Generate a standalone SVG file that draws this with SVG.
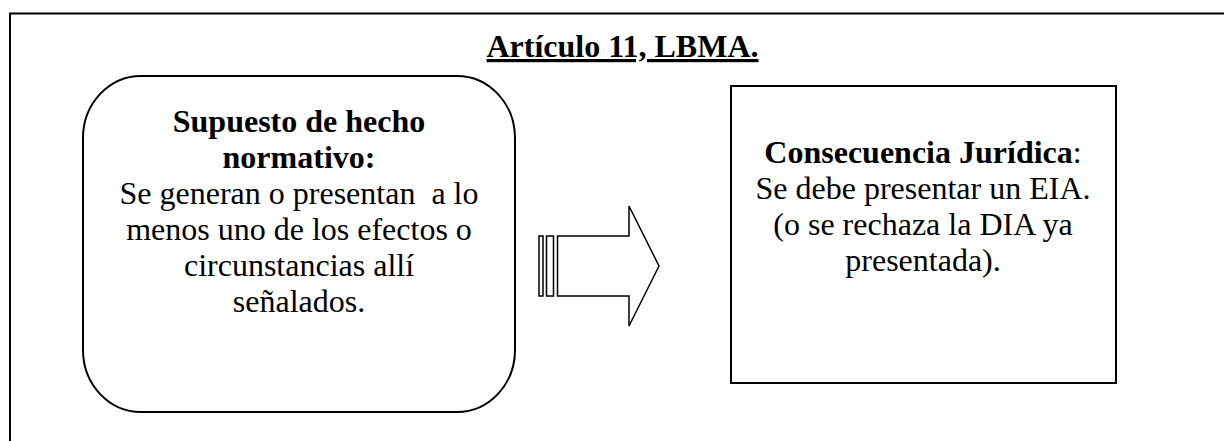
<svg xmlns="http://www.w3.org/2000/svg" width="1224" height="441" viewBox="0 0 1224 441">
<style>
.t{font-family:"Liberation Serif","Times New Roman",serif;font-size:32px;fill:#000;text-anchor:middle}
.b{font-weight:bold}
.s{fill:#fff;stroke:#000;stroke-width:2}
</style>
<rect width="1224" height="441" fill="#fff"/>
<g id="frame">
<path d="M10 441 V13.5 H1224" fill="none" stroke="#000" stroke-width="2"/>
<text class="t b" x="622.5" y="57" text-decoration="underline">Artículo 11, LBMA.</text>
</g>
<g id="supuesto">
<rect class="s" x="83" y="76" width="432" height="336" rx="58" ry="62"/>
<text class="t" x="299" y="132"><tspan class="b">Supuesto de hecho</tspan><tspan class="b" x="299" dy="36">normativo:</tspan><tspan x="299" dy="36" xml:space="preserve">Se generan o presentan  a lo</tspan><tspan x="299" dy="36">menos uno de los efectos o</tspan><tspan x="299" dy="36">circunstancias allí</tspan><tspan x="299" dy="36">señalados.</tspan></text>
</g>
<g id="consecuencia">
<rect class="s" x="731" y="86" width="385" height="297"/>
<text class="t" x="923" y="163"><tspan class="b">Consecuencia Jurídica</tspan><tspan>:</tspan><tspan x="923" dy="36">Se debe presentar un EIA.</tspan><tspan x="923" dy="36">(o se rechaza la DIA ya</tspan><tspan x="923" dy="36">presentada).</tspan></text>
</g>
<g id="connectors">
<rect x="539" y="236" width="4" height="60" fill="#fff" stroke="#000" stroke-width="1.5"/>
<rect x="546.5" y="236" width="7" height="60" fill="#fff" stroke="#000" stroke-width="1.5"/>
<path d="M557.5 236 H629 V206 L659 266 L629 326 V296 H557.5 Z" fill="#fff" stroke="#000" stroke-width="1.5"/>
</g>
</svg>
